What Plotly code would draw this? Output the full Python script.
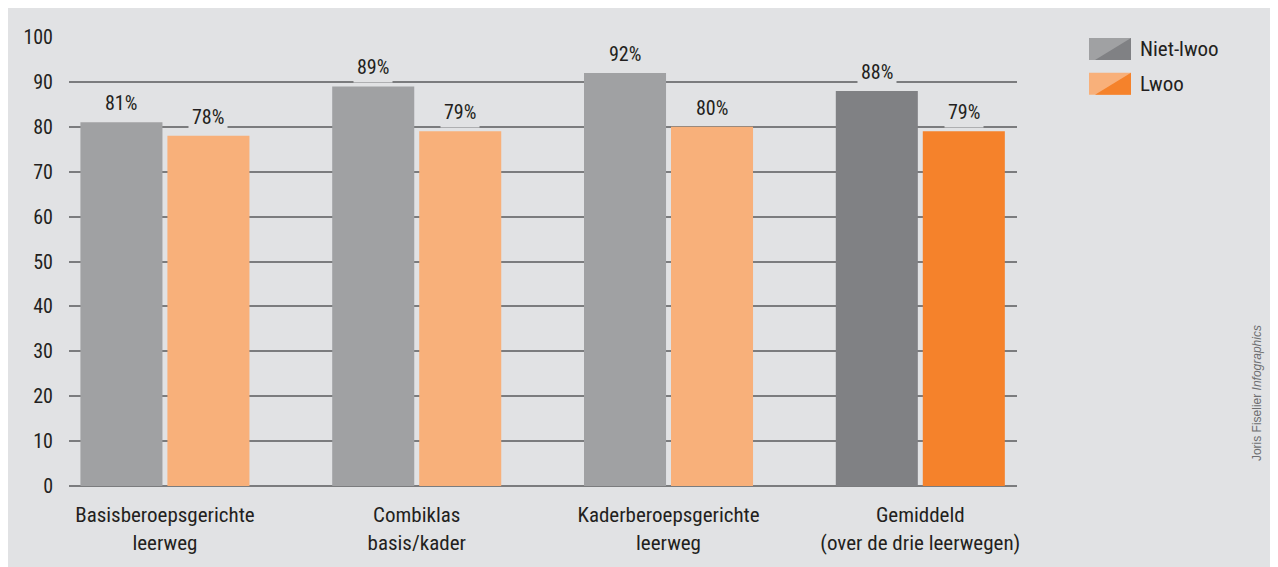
import plotly.graph_objects as go

# data
categories = ["Basisberoepsgerichte<br>leerweg", "Combiklas<br>basis/kader",
              "Kaderberoepsgerichte<br>leerweg", "Gemiddeld<br>(over de drie leerwegen)"]
niet_lwoo = [81, 89, 92, 88]
lwoo = [78, 79, 80, 79]
series_names = ["Niet-lwoo", "Lwoo"]
y_ticks = [0, 10, 20, 30, 40, 50, 60, 70, 80, 90, 100]

BG = "#e1e2e4"
GRID = "#7b7c7e"
TXT = "#231f20"
FONT = "Roboto Condensed"
gray_cols = ["#a0a1a3"] * 3 + ["#808184"]
orange_cols = ["#f8b07a"] * 3 + ["#f5822b"]

# page body has an 8px margin, so figure pixels = reference pixels - 8
OFF = 8
W, H = 1278 - OFF, 567 - OFF
L, R, T, B = 69 - OFF, 1017 - OFF, 37 - OFF, 488 - OFF


def px(x):
    return (x - OFF - L) / (R - L)


def py(y):
    return (B - (y - OFF)) / (B - T)


fig = go.Figure()
fig.add_trace(go.Bar(x=categories, y=niet_lwoo, name=series_names[0],
                     marker=dict(color=gray_cols, line_width=0), showlegend=False))
fig.add_trace(go.Bar(x=categories, y=lwoo, name=series_names[1],
                     marker=dict(color=orange_cols, line_width=0), showlegend=False))

# value labels with a background that cuts the gridline
off = 0.1728
for i, (a, b) in enumerate(zip(niet_lwoo, lwoo)):
    for dx, v in ((-off, a), (off, b)):
        fig.add_annotation(x=i + dx, y=v, xref="x", yref="y", text=f"{v}%",
                           showarrow=False, yanchor="bottom", yshift=3,
                           bgcolor=BG, borderpad=3,
                           font=dict(family=FONT, size=20, color=TXT))

# legend swatches (split diagonally, light/dark)
shapes = []
legend_rows = [(38, 60, "#a0a1a3", "#808184"), (73, 95, "#f8b07a", "#f5822b")]
for (y0, y1, light, dark), name in zip(legend_rows, series_names):
    x0, x1 = 1089, 1131
    shapes.append(dict(type="rect", xref="paper", yref="paper",
                       x0=px(x0), x1=px(x1), y0=py(y1), y1=py(y0),
                       fillcolor=light, line_width=0, layer="above"))
    path = f"M {px(x0 + 6)} {py(y1)} L {px(x1)} {py(y0)} L {px(x1)} {py(y1)} Z"
    shapes.append(dict(type="path", xref="paper", yref="paper", path=path,
                       fillcolor=dark, line_width=0, layer="above"))
    fig.add_annotation(x=px(1138), y=py((y0 + y1) / 2), xref="paper", yref="paper",
                       text=name, showarrow=False, xanchor="left", yanchor="middle",
                       font=dict(family=FONT, size=21, color=TXT))

fig.add_annotation(x=px(1266), y=py(465), xref="paper", yref="paper",
                   text="Joris Fiselier <i>Infographics</i>", textangle=-90,
                   showarrow=False, font=dict(family="Liberation Sans, sans-serif",
                                              size=12, color="#6d6e70"))

fig.update_layout(
    width=W, height=H,
    margin=dict(l=L, r=W - R, t=T, b=H - B),
    paper_bgcolor=BG, plot_bgcolor=BG,
    barmode="group", bargap=0.309, bargroupgap=0.057,
    shapes=shapes,
    font=dict(family=FONT, size=20, color=TXT),
)
fig.update_xaxes(range=[-0.381, 3.384], showgrid=False, zeroline=False,
                 ticks="outside", ticklen=10, tickcolor="rgba(0,0,0,0)",
                 tickfont=dict(family=FONT, size=21, color=TXT))
fig.update_yaxes(range=[0, 100], tickvals=y_ticks, showgrid=True,
                 gridcolor=GRID, gridwidth=1.5, zeroline=True,
                 zerolinecolor=GRID, zerolinewidth=1.5,
                 ticks="outside", ticklen=11, tickcolor="rgba(0,0,0,0)",
                 tickfont=dict(family=FONT, size=20, color=TXT))

fig.write_html("out.html")
